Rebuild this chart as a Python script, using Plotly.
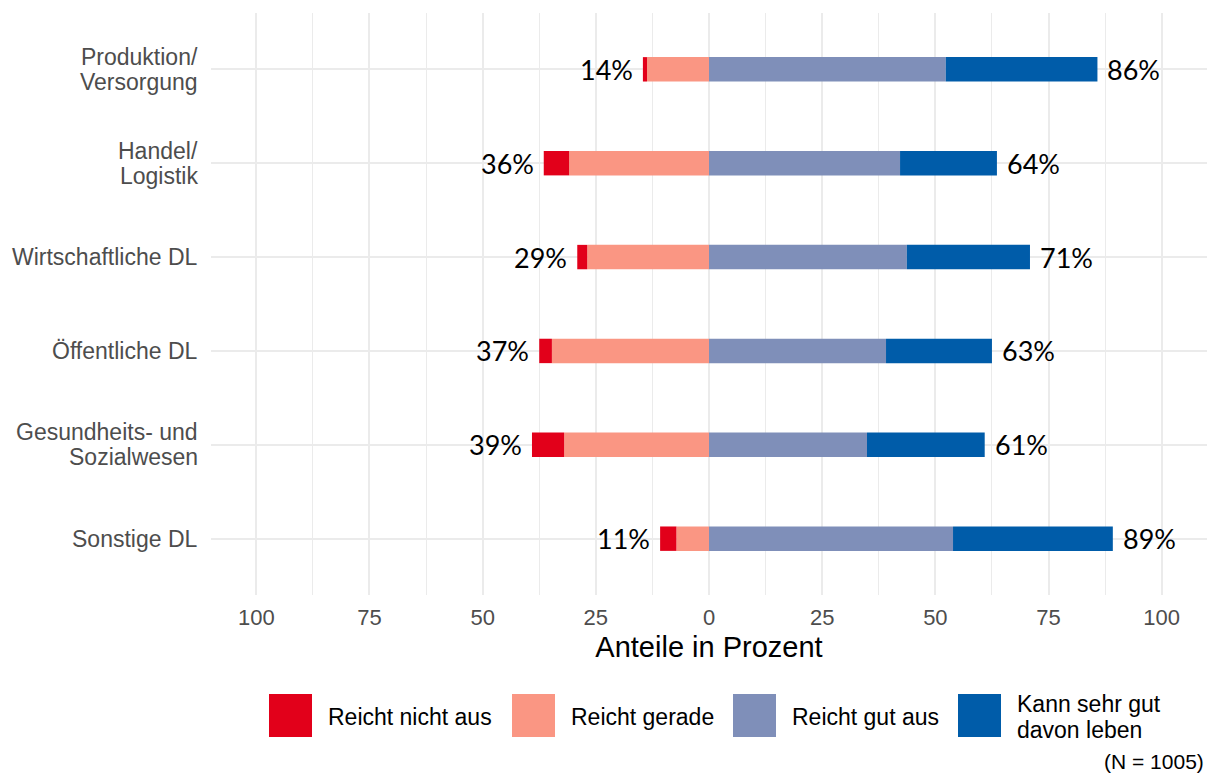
import plotly.graph_objects as go

categories = ["Produktion/ Versorgung", "Handel/ Logistik", "Wirtschaftliche DL",
              "Öffentliche DL", "Gesundheits- und Sozialwesen", "Sonstige DL"]
category_lines = [["Produktion/", "Versorgung"], ["Handel/", "Logistik"], ["Wirtschaftliche DL"],
                  ["Öffentliche DL"], ["Gesundheits- und", "Sozialwesen"], ["Sonstige DL"]]
series_names = ["Reicht nicht aus", "Reicht gerade", "Reicht gut aus", "Kann sehr gut davon leben"]
legend_lines = [["Reicht nicht aus"], ["Reicht gerade"], ["Reicht gut aus"], ["Kann sehr gut", "davon leben"]]
series_colors = ["#E2001A", "#FA9683", "#7F8FB9", "#005CA9"]

reicht_nicht = [0.9, 5.6, 2.2, 2.8, 7.1, 3.6]
reicht_gerade = [13.7, 30.9, 26.9, 34.7, 32.0, 7.2]
reicht_gut = [52.3, 42.2, 43.7, 39.1, 34.9, 53.9]
sehr_gut = [33.5, 21.4, 27.2, 23.4, 26.0, 35.3]

neg_labels = [14, 36, 29, 37, 39, 11]
pos_labels = [86, 64, 71, 63, 61, 89]

tick_vals = [-100, -75, -50, -25, 0, 25, 50, 75, 100]
tick_text = ["100", "75", "50", "25", "0", "25", "50", "75", "100"]

caption = "(N = 1005)"

fig = go.Figure()
bar_w = 0.26
# negative side: closest to zero first
fig.add_trace(go.Bar(y=categories, x=[-v for v in reicht_gerade], orientation="h",
                     marker=dict(color=series_colors[1], line=dict(width=0)), width=bar_w,
                     name=series_names[1], showlegend=False, hoverinfo="skip"))
fig.add_trace(go.Bar(y=categories, x=[-v for v in reicht_nicht], orientation="h",
                     marker=dict(color=series_colors[0], line=dict(width=0)), width=bar_w,
                     name=series_names[0], showlegend=False, hoverinfo="skip"))
fig.add_trace(go.Bar(y=categories, x=reicht_gut, orientation="h",
                     marker=dict(color=series_colors[2], line=dict(width=0)), width=bar_w,
                     name=series_names[2], showlegend=False, hoverinfo="skip"))
fig.add_trace(go.Bar(y=categories, x=sehr_gut, orientation="h",
                     marker=dict(color=series_colors[3], line=dict(width=0)), width=bar_w,
                     name=series_names[3], showlegend=False, hoverinfo="skip"))

label_font = dict(family="Lato, Open Sans, sans-serif", size=27, color="black")
for i, cat in enumerate(categories):
    neg_end = -(reicht_nicht[i] + reicht_gerade[i])
    pos_end = reicht_gut[i] + sehr_gut[i]
    fig.add_annotation(x=neg_end, y=cat, text=f"{neg_labels[i]}%", showarrow=False,
                       xanchor="right", xshift=-8, font=label_font)
    fig.add_annotation(x=pos_end, y=cat, text=f"{pos_labels[i]}%", showarrow=False,
                       xanchor="left", xshift=8, font=label_font)

# category labels (tight line spacing)
cat_font = dict(family="Liberation Sans, Arial", size=23, color="#4D4D4D")
line_gap = 25
for i, cat in enumerate(categories):
    lines = category_lines[i]
    n = len(lines)
    for j, txt in enumerate(lines):
        fig.add_annotation(xref="paper", yref="y", x=0, y=cat, text=txt, showarrow=False,
                           xanchor="right", yanchor="middle", xshift=-11,
                           yshift=((n - 1) / 2 - j) * line_gap, font=cat_font)

# custom legend
W, H = 1208, 776
ml, mr, mt, mb = 211, 1, 13, 181
pw, ph = W - ml - mr, H - mt - mb
def px(x):
    return (x - ml) / pw
def py(y):
    return (H - mb - y) / ph

key_left = [269, 512, 733, 958]
key_size = 43
key_top = 694
leg_font = dict(family="Liberation Sans, Arial", size=23, color="black")
for i, name in enumerate(series_names):
    fig.add_shape(type="rect", xref="paper", yref="paper",
                  x0=px(key_left[i]), x1=px(key_left[i] + key_size),
                  y0=py(key_top + key_size), y1=py(key_top),
                  fillcolor=series_colors[i], line=dict(width=0))
    lines = legend_lines[i]
    n = len(lines)
    for j, txt in enumerate(lines):
        fig.add_annotation(xref="paper", yref="paper", x=px(key_left[i] + key_size + 14),
                           y=py(key_top + key_size / 2 + 1), text=txt, showarrow=False,
                           xanchor="left", yanchor="middle", align="left",
                           yshift=((n - 1) / 2 - j) * 26, font=leg_font)

fig.add_annotation(xref="paper", yref="paper", x=px(1206), y=py(762), text=caption,
                   showarrow=False, xanchor="right", yanchor="middle",
                   font=dict(family="Liberation Sans, Arial", size=21, color="black"))

fig.update_layout(
    width=W, height=H,
    barmode="relative",
    plot_bgcolor="white", paper_bgcolor="white",
    margin=dict(l=ml, r=mr, t=mt, b=mb, pad=0),
    showlegend=False,
    font=dict(family="Liberation Sans, Arial", color="#4D4D4D"),
    xaxis=dict(range=[-110, 110], tickvals=tick_vals, ticktext=tick_text,
               showgrid=True, gridcolor="#EBEBEB", gridwidth=2, zeroline=False,
               showline=False, ticks="", tickfont=dict(size=22, color="#4D4D4D"),
               ticklabelstandoff=7,
               minor=dict(tickmode="linear", tick0=0, dtick=12.5, showgrid=True,
                          gridcolor="#EBEBEB", gridwidth=1),
               title=dict(text="Anteile in Prozent", standoff=7,
                          font=dict(size=29, color="black"))),
    yaxis=dict(range=[5.6, -0.6], categoryorder="array", categoryarray=categories,
               showgrid=True, gridcolor="#EBEBEB", gridwidth=2, zeroline=False,
               showline=False, ticks="", showticklabels=False),
)

html = fig.to_html(full_html=True, config={"displayModeBar": False, "staticPlot": True})
html = html.replace("<body>", '<body style="margin:0;padding:0;overflow:hidden">', 1)
with open("out.html", "w", encoding="utf-8") as f:
    f.write(html)
